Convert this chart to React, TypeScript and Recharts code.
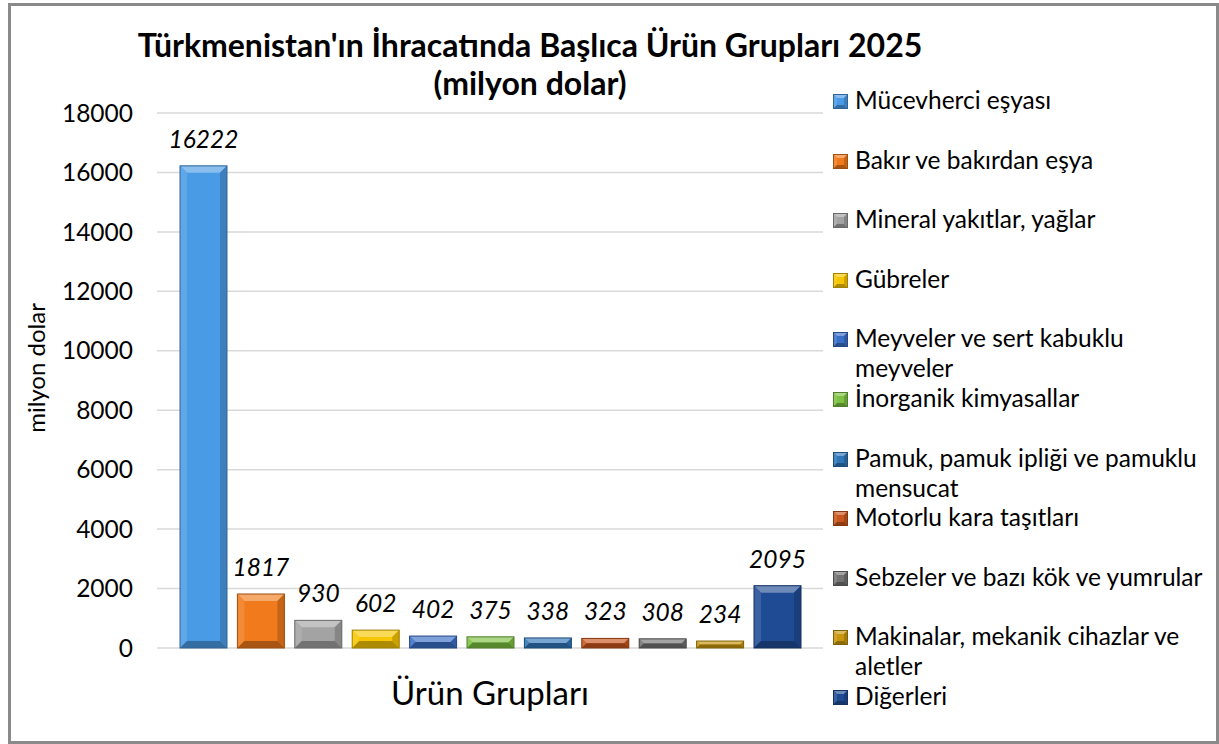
import { Bar, BarChart, CartesianGrid, LabelList, XAxis, YAxis } from "recharts";

const groups = [
  "Mücevherci eşyası",
  "Bakır ve bakırdan eşya",
  "Mineral yakıtlar, yağlar",
  "Gübreler",
  "Meyveler ve sert kabuklu meyveler",
  "İnorganik kimyasallar",
  "Pamuk, pamuk ipliği ve pamuklu mensucat",
  "Motorlu kara taşıtları",
  "Sebzeler ve bazı kök ve yumrular",
  "Makinalar, mekanik cihazlar ve aletler",
  "Diğerleri",
];
const values = [16222, 1817, 930, 602, 402, 375, 338, 323, 308, 234, 2095];
const colors = [
  "#4a9be6", "#f07a1c", "#a3a3a3", "#f7c600", "#3a6fc8", "#7dc242",
  "#2f75b8", "#c8561c", "#727272", "#c8970e", "#1f4b94",
];
const yTicks = [0, 2000, 4000, 6000, 8000, 10000, 12000, 14000, 16000, 18000];
const categoryLabel = "Ürün Grupları";

const row: Record<string, string | number> = { name: categoryLabel };
values.forEach((v, i) => (row[`s${i}`] = v));
const data = [row];

const FONT = "Lato, 'Open Sans', sans-serif";

function shade(hex: string, amt: number) {
  const n = parseInt(hex.slice(1), 16);
  const ch = [(n >> 16) & 255, (n >> 8) & 255, n & 255].map((c) =>
    Math.round(amt >= 0 ? c + (255 - c) * amt : c * (1 + amt))
  );
  return `rgb(${ch[0]},${ch[1]},${ch[2]})`;
}

function BevelBar(props: any) {
  const { x, y, width: w, height: h, fill } = props;
  if (!h || h <= 0) return null;
  const b = Math.min(7, h / 2, w / 4);
  return (
    <g>
      <rect x={x} y={y} width={w} height={h} fill={fill} />
      <polygon points={`${x},${y} ${x + w},${y} ${x + w - b},${y + b} ${x + b},${y + b}`} fill={shade(fill, 0.35)} />
      <polygon points={`${x},${y} ${x + b},${y + b} ${x + b},${y + h - b} ${x},${y + h}`} fill={shade(fill, 0.12)} />
      <polygon points={`${x + w},${y} ${x + w - b},${y + b} ${x + w - b},${y + h - b} ${x + w},${y + h}`} fill={shade(fill, -0.18)} />
      <polygon points={`${x},${y + h} ${x + b},${y + h - b} ${x + w - b},${y + h - b} ${x + w},${y + h}`} fill={shade(fill, -0.3)} />
      <rect x={x} y={y} width={w} height={h} fill="none" stroke={shade(fill, -0.35)} strokeWidth={1} />
    </g>
  );
}

function Marker({ color }: { color: string }) {
  return (
    <svg width={15} height={15} style={{ flex: "none", marginTop: 9 }}>
      <BevelBar x={0.5} y={0.5} width={14} height={14} fill={color} />
    </svg>
  );
}

function LegendList() {
  return (
    <div
      style={{
        position: "absolute", left: 833, top: 85, width: 385,
        fontFamily: FONT, fontSize: 24.5, color: "#000",
      }}
    >
      {groups.map((g, i) => (
        <div key={g} style={{ height: 59.6, display: "flex", alignItems: "flex-start", gap: 7 }}>
          <Marker color={colors[i]} />
          <div style={{ width: 358, lineHeight: "30px" }}>{g}</div>
        </div>
      ))}
    </div>
  );
}

export default function App() {
  return (
    <div style={{ position: "fixed", left: 0, top: 0, width: 1219, height: 744, background: "#fff" }}>
      <div
        style={{
          position: "absolute", left: 8, top: 3, width: 1211, height: 741,
          border: "3px solid #8a8a8a", boxSizing: "border-box",
        }}
      />
      <div
        style={{
          position: "absolute", left: 80, width: 900, top: 26, textAlign: "center",
          fontFamily: FONT, fontWeight: 700, fontSize: 32, lineHeight: "38px", color: "#000",
        }}
      >
        Türkmenistan'ın İhracatında Başlıca Ürün Grupları 2025
        <br />
        (milyon dolar)
      </div>
      <div style={{ position: "absolute", left: 0, top: 0 }}>
        <BarChart
          width={1219}
          height={744}
          data={data}
          margin={{ top: 113, right: 396, bottom: 36, left: 57 }}
          barSize={47}
          barGap={10.4}
        >
          <CartesianGrid vertical={false} stroke="#d9d9d9" strokeWidth={1.5} />
          <XAxis
            dataKey="name"
            axisLine={false}
            tickLine={false}
            tickSize={0}
            tickMargin={34}
            height={60}
            tick={{ fill: "#000", fontSize: 33, fontFamily: FONT }}
          />
          <YAxis
            domain={[0, 18000]}
            ticks={yTicks}
            interval={0}
            width={100}
            axisLine={false}
            tickLine={false}
            tickSize={0}
            tickMargin={24}
            tick={{ fill: "#000", fontSize: 24.5, fontFamily: FONT }}
            label={{
              content: () => (
                <text
                  x={35}
                  y={368}
                  transform="rotate(-90 35 368)"
                  textAnchor="middle"
                  dominantBaseline="central"
                  fontSize={24}
                  fontFamily={FONT}
                  fill="#000"
                >
                  milyon dolar
                </text>
              ),
            }}
          />
          {groups.map((g, i) => (
            <Bar
              key={g}
              dataKey={`s${i}`}
              name={g}
              fill={colors[i]}
              shape={BevelBar}
              isAnimationActive={false}
            >
              <LabelList
                dataKey={`s${i}`}
                position="top"
                offset={18}
                fill="#000"
                fontSize={24.5}
                fontStyle="italic"
                fontFamily={FONT}
              />
            </Bar>
          ))}
        </BarChart>
      </div>
      <LegendList />
    </div>
  );
}
